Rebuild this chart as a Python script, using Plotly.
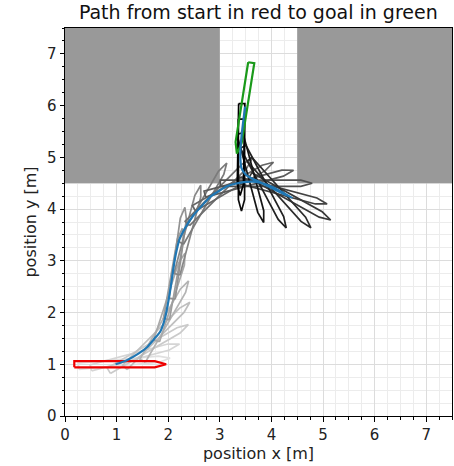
import numpy as np
import plotly.graph_objects as go

# ---- data ----
obstacle_x0 = [0.0, 4.5]
obstacle_x1 = [3.0, 7.5]
obstacle_y0 = [4.5, 4.5]
obstacle_y1 = [7.5, 7.5]

start_pose = [1.07, 1.00, 0.0]      # x, y, heading [deg]
goal_pose = [3.47, 5.95, -99.0]

path_x = [0.98, 1.20, 1.43, 1.60, 1.72, 1.85, 1.94, 2.00, 2.05, 2.10, 2.15, 2.22,
          2.32, 2.49, 2.65, 2.82, 3.00, 3.14, 3.30, 3.46, 3.62, 3.78, 4.01, 4.20,
          4.40, 4.20, 4.00, 3.80, 3.62, 3.50, 3.42, 3.40, 3.40, 3.42, 3.45, 3.49]
path_y = [1.00, 1.08, 1.21, 1.34, 1.48, 1.64, 1.90, 2.20, 2.50, 2.85, 3.14, 3.42,
          3.62, 3.88, 4.06, 4.24, 4.36, 4.44, 4.49, 4.52, 4.53, 4.51, 4.43, 4.33,
          4.22, 4.31, 4.41, 4.51, 4.59, 4.67, 4.79, 4.95, 5.15, 5.40, 5.66, 5.98]

boat_x = [1.15, 1.36, 1.62, 1.79, 1.95, 2.05, 2.12, 2.20, 2.40, 2.69, 3.00,
          3.27, 3.57, 3.90, 4.22, 4.37, 4.17, 3.87, 3.62, 3.42, 3.41]
boat_y = [1.04, 1.16, 1.32, 1.57, 1.84, 2.30, 2.75, 3.15, 3.60, 4.12, 4.35,
          4.46, 4.52, 4.50, 4.33, 4.22, 4.30, 4.42, 4.60, 4.85, 5.15]
boat_heading = [5, 15, 30, 45, 60, 72, 80, 82, 75, 60, 45,
                30, 15, 0, -15, -29, -48, -62, -75, -90, -91]

# boat outline geometry (local frame)
HALF_LEN = 0.89
HALF_W = 0.06
TIP_LEN = 0.22


def boat_outline(x, y, heading_deg):
    lx = np.array([-HALF_LEN, HALF_LEN - TIP_LEN, HALF_LEN, HALF_LEN - TIP_LEN, -HALF_LEN, -HALF_LEN])
    ly = np.array([-HALF_W, -HALF_W, 0.0, HALF_W, HALF_W, -HALF_W])
    a = np.deg2rad(heading_deg)
    gx = x + lx * np.cos(a) - ly * np.sin(a)
    gy = y + lx * np.sin(a) + ly * np.cos(a)
    return gx, gy


fig = go.Figure()

# obstacles
for x0, x1, y0, y1 in zip(obstacle_x0, obstacle_x1, obstacle_y0, obstacle_y1):
    fig.add_trace(go.Scatter(x=[x0, x1, x1, x0, x0], y=[y0, y0, y1, y1, y0],
                             mode="lines", fill="toself", fillcolor="#999999",
                             line=dict(width=0, color="#999999"),
                             hoverinfo="skip", showlegend=False))

# intermediate boats (light grey -> black)
n = len(boat_x)
for i in range(n):
    lvl = 0.88 * (1 - i / (n - 1))
    g = int(round(lvl * 255))
    col = f"rgb({g},{g},{g})"
    bx, by = boat_outline(boat_x[i], boat_y[i], boat_heading[i])
    fig.add_trace(go.Scatter(x=bx, y=by, mode="lines", line=dict(color=col, width=1.7),
                             hoverinfo="skip", showlegend=False))

# start & goal
sx, sy = boat_outline(*start_pose)
fig.add_trace(go.Scatter(x=sx, y=sy, mode="lines", line=dict(color="#ee0000", width=2.2),
                         hoverinfo="skip", showlegend=False))
gx, gy = boat_outline(*goal_pose)
fig.add_trace(go.Scatter(x=gx, y=gy, mode="lines", line=dict(color="#1a9a1a", width=2.2),
                         hoverinfo="skip", showlegend=False))

# path
fig.add_trace(go.Scatter(x=path_x, y=path_y, mode="lines",
                         line=dict(color="#1f77b4", width=2.2, shape="spline", smoothing=0.6),
                         hoverinfo="skip", showlegend=False))

axis_common = dict(
    range=[0, 7.5], tick0=0, dtick=1, showline=True, mirror=True, automargin=False,
    linecolor="black", linewidth=1, ticks="outside", ticklen=4.5, tickwidth=1,
    tickcolor="black", showgrid=True, gridcolor="#dcdcdc", gridwidth=1,
    zeroline=False, tickfont=dict(family="DejaVu Sans", size=15, color="#222222"),
    minor=dict(dtick=0.25, ticks="outside", ticklen=2.5, tickcolor="black",
               showgrid=True, gridcolor="#ececec", gridwidth=1),
)

fig.update_layout(
    width=454, height=466,
    margin=dict(l=65, r=2, t=28, b=50, autoexpand=False),
    plot_bgcolor="white", paper_bgcolor="white",
    title=dict(text="Path from start in red to goal in green",
               font=dict(family="DejaVu Sans", size=19, color="#111111"),
               x=0.569, xanchor="center", xref="container", automargin=False,
               y=0.974, yanchor="middle", yref="container"),
    xaxis=dict(axis_common, title=dict(text="position x [m]", standoff=5,
                                       font=dict(family="DejaVu Sans", size=16, color="#222222"))),
    yaxis=dict(axis_common, title=dict(text="position y [m]", standoff=6,
                                       font=dict(family="DejaVu Sans", size=16, color="#222222"))),
)

fig.write_html("out.html", config={"displayModeBar": False},
               post_script="document.body.style.margin='0';document.body.style.overflow='hidden';")
